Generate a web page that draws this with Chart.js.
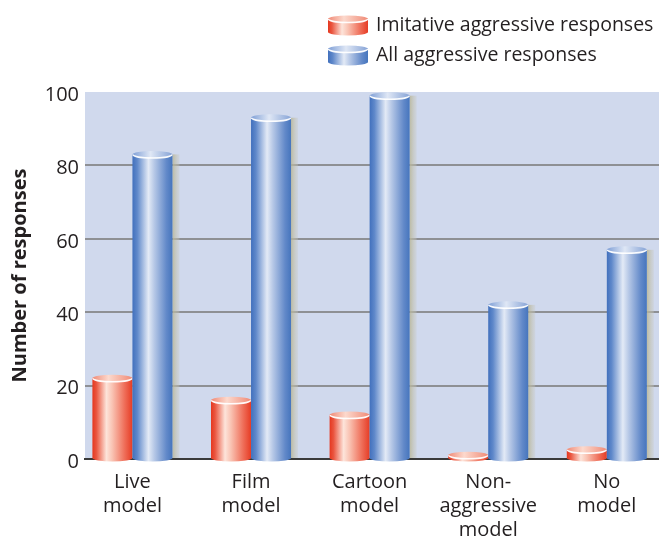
<!DOCTYPE html>
<html>
<head>
<meta charset="utf-8">
<script src="https://cdn.jsdelivr.net/npm/chart.js@4"></script>
<style>
  html, body { margin: 0; padding: 0; background: #fff; overflow: hidden; }
  #wrap { position: relative; width: 659px; height: 536px; }
</style>
</head>
<body>
<div id="wrap"><canvas id="bobo"></canvas></div>
<script>
// data
const categories = [["Live", "model"], ["Film", "model"], ["Cartoon", "model"], ["Non-", "aggressive", "model"], ["No", "model"]];
const imitative = [22, 16, 12, 1, 2.5];
const allAggressive = [83, 93, 99, 42, 57];
const seriesNames = ["Imitative aggressive responses", "All aggressive responses"];

const FONT = "'Open Sans', 'Noto Sans', sans-serif";
const TEXT = "#231f20";

const palettes = [
    {
        body: [[0, "#e5371f"], [0.1, "#ea5640"], [0.35, "#fde4da"], [0.5, "#f9c2b2"], [0.8, "#ef6f5a"], [1, "#e63c25"]],
        top: [[0, "#f08a76"], [0.4, "#fcd9cd"], [1, "#f08a76"]]
    },
    {
        body: [[0, "#4170bd"], [0.12, "#5f88ca"], [0.4, "#e3eaf6"], [0.55, "#b5c7e6"], [0.85, "#6289c9"], [1, "#4675bd"]],
        top: [[0, "#7f9fd6"], [0.45, "#dfe7f5"], [1, "#86a3d6"]]
    }
];

function grad(ctx, x0, x1, stops) {
    const g = ctx.createLinearGradient(x0, 0, x1, 0);
    stops.forEach(s => g.addColorStop(s[0], s[1]));
    return g;
}

// one cylinder: body, rounded bottom, elliptical top with a white rim
function drawCyl(ctx, x0, x1, top, base, pal) {
    const cx = (x0 + x1) / 2, rx = (x1 - x0) / 2, ry = 3.5;
    ctx.save();
    ctx.fillStyle = grad(ctx, x0, x1, pal.body);
    ctx.beginPath();
    ctx.moveTo(x0, top);
    ctx.lineTo(x0, base);
    ctx.ellipse(cx, base, rx, ry, 0, Math.PI, 0, true);
    ctx.lineTo(x1, top);
    ctx.closePath();
    ctx.fill();
    ctx.fillStyle = grad(ctx, x0, x1, pal.top);
    ctx.beginPath();
    ctx.ellipse(cx, top, rx, ry, 0, 0, Math.PI * 2);
    ctx.fill();
    ctx.strokeStyle = "rgba(255,255,255,0.95)";
    ctx.lineWidth = 1.5;
    ctx.beginPath();
    ctx.ellipse(cx, top, rx - 0.5, ry, 0, 0, Math.PI, false);
    ctx.stroke();
    ctx.restore();
}

const cylinders = {
    id: "cylinders",
    beforeDraw(chart) {
        const { ctx, chartArea: a } = chart;
        ctx.save();
        ctx.fillStyle = "#d0d9ed";
        ctx.fillRect(a.left, a.top, a.right - a.left, a.bottom - a.top);
        ctx.restore();
    },
    beforeDatasetsDraw(chart) {
        const ctx = chart.ctx;
        ctx.save();
        // depth shadow right of each bar
        chart.data.datasets.forEach((ds, i) => {
            chart.getDatasetMeta(i).data.forEach(el => {
                const x1 = el.x + el.width / 2;
                const g = ctx.createLinearGradient(x1, 0, x1 + 7, 0);
                g.addColorStop(0, "rgba(185,182,150,0.85)");
                g.addColorStop(1, "rgba(200,200,190,0.3)");
                ctx.fillStyle = g;
                ctx.fillRect(x1, el.y, 7, el.base - el.y);
            });
        });
        ctx.restore();
    },
    afterDatasetsDraw(chart) {
        const ctx = chart.ctx;
        chart.data.datasets.forEach((ds, i) => {
            chart.getDatasetMeta(i).data.forEach(el => {
                drawCyl(ctx, el.x - el.width / 2, el.x + el.width / 2, el.y, el.base, palettes[i]);
            });
        });
    },
    afterDraw(chart) {
        const ctx = chart.ctx;
        ctx.save();
        ctx.font = "19.5px " + FONT;
        ctx.textBaseline = "middle";
        chart.data.datasets.forEach((ds, i) => {
            const cy = 25 + 30 * i;
            drawCyl(ctx, 328, 368, cy - 6, cy + 7, palettes[i]);
            ctx.fillStyle = TEXT;
            ctx.fillText(ds.label, 376, cy);
        });
        ctx.restore();
    }
};

new Chart(document.getElementById("bobo"), {
    type: "bar",
    data: {
        datasets: [{
            label: seriesNames[0],
            data: imitative.map((v, i) => ({ x: i, y: v })),
            backgroundColor: "transparent",
            borderWidth: 0
        }, {
            label: seriesNames[1],
            data: allAggressive.map((v, i) => ({ x: i, y: v })),
            backgroundColor: "transparent",
            borderWidth: 0
        }]
    },
    options: {
        responsive: true,
        maintainAspectRatio: false,
        animation: false,
        layout: { padding: { top: 92, right: 0, left: 0, bottom: 0 } },
        datasets: { bar: { categoryPercentage: 0.675, barPercentage: 1.0 } },
        plugins: { legend: { display: false }, tooltip: { enabled: false } },
        scales: {
            x: {
                type: "linear",
                offset: false,
                min: -0.4,
                max: 4.44,
                grid: { display: false, drawTicks: false },
                border: { display: true, color: "#3a3a3a", width: 2 },
                afterBuildTicks(s) { s.ticks = categories.map((c, i) => ({ value: i })); },
                ticks: {
                    color: TEXT,
                    padding: 11,
                    maxRotation: 0,
                    autoSkip: false,
                    callback: v => categories[v],
                    font: { family: FONT, size: 20, lineHeight: "24px" }
                },
                afterFit(s) { s.height = 77; }
            },
            y: {
                min: 0,
                max: 100,
                grid: {
                    drawTicks: false,
                    lineWidth: 2,
                    color: c => (c.tick && (c.tick.value === 0 || c.tick.value === 100)) ? "rgba(0,0,0,0)" : "#8e9094"
                },
                border: { display: false },
                ticks: {
                    stepSize: 20,
                    color: TEXT,
                    padding: 6,
                    labelOffset: 3,
                    font: { family: FONT, size: 20 }
                },
                title: {
                    display: true,
                    text: "Number of responses",
                    color: TEXT,
                    padding: { top: 8, bottom: 0 },
                    font: { family: FONT, size: 20, weight: "bold", lineHeight: 1.2 }
                },
                afterFit(s) { s.width = 85; }
            }
        }
    },
    plugins: [cylinders]
});
</script>
</body>
</html>
